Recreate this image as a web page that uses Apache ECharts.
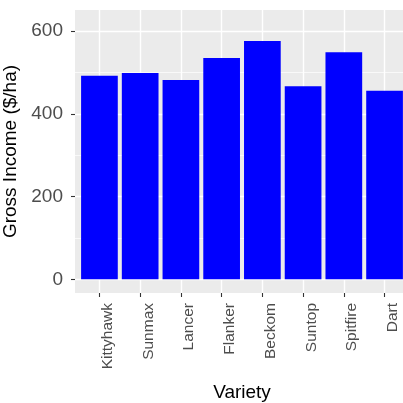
<!DOCTYPE html>
<html><head><meta charset="utf-8">
<script src="https://cdn.jsdelivr.net/npm/echarts@6/dist/echarts.min.js"></script>
<style>html,body{margin:0;padding:0;background:#fff}#c{width:403px;height:403px}</style>
</head><body><div id="c"></div>
<script>
const categories = ['Kittyhawk','Sunmax','Lancer','Flanker','Beckom','Suntop','Spitfire','Dart'];
const values = [492, 499, 482, 535, 576, 467, 549, 456];
const yMajorTicks = [0, 200, 400, 600];
const yMinorTicks = [100, 300, 500];
const xTicks = categories.map((_, i) => i);
const LABEL_SHIFT = 0.2; // rotated labels sit slightly right of their tick, as in the reference

const FONT = 'Liberation Sans, Arial, sans-serif';
const chart = echarts.init(document.getElementById('c'), null, {renderer: 'canvas'});
chart.setOption({
  animation: false,
  grid: {left: 75, top: 10, width: 334, height: 283, show: true, backgroundColor: '#EBEBEB', borderWidth: 0,
         containLabel: false, outerBoundsMode: 'none'},
  xAxis: {
    type: 'value', min: -0.6, max: 7.6,
    name: 'Variety', nameLocation: 'middle', nameGap: 90,
    nameTextStyle: {fontFamily: FONT, fontSize: 19, color: '#000'},
    axisLine: {show: false, onZero: false},
    axisTick: {show: true, length: 4, lineStyle: {color: '#333', width: 1.1}, customValues: xTicks},
    axisLabel: {
      customValues: xTicks.map(i => i + LABEL_SHIFT), rotate: 90, margin: 10,
      fontFamily: FONT, fontSize: 15.5, color: '#4d4d4d',
      formatter: v => categories[Math.round(v)]
    },
    splitLine: {show: true, lineStyle: {color: '#fff', width: 1.4}}
  },
  yAxis: [{
    type: 'value', min: -33, max: 651,
    name: 'Gross Income ($/ha)', nameLocation: 'middle', nameGap: 46,
    nameTextStyle: {fontFamily: FONT, fontSize: 19, color: '#000'},
    axisLine: {show: false, onZero: false},
    axisTick: {show: true, length: 4, lineStyle: {color: '#333', width: 1.1}, customValues: yMajorTicks},
    axisLabel: {customValues: yMajorTicks, margin: 12, fontFamily: FONT, fontSize: 19, color: '#4d4d4d'},
    splitLine: {show: true, lineStyle: {color: '#fff', width: 1.4}}
  }, {
    type: 'value', min: -33, max: 651, position: 'left',
    axisLine: {show: false, onZero: false},
    axisTick: {show: false, customValues: yMinorTicks},
    axisLabel: {show: false, customValues: yMinorTicks},
    splitLine: {show: true, lineStyle: {color: '#fff', width: 0.7}}
  }],
  series: [{
    type: 'bar', xAxisIndex: 0, yAxisIndex: 0,
    barWidth: 36.7,
    itemStyle: {color: '#0000FF'},
    data: values.map((v, i) => [i, v])
  }]
});
</script></body></html>
